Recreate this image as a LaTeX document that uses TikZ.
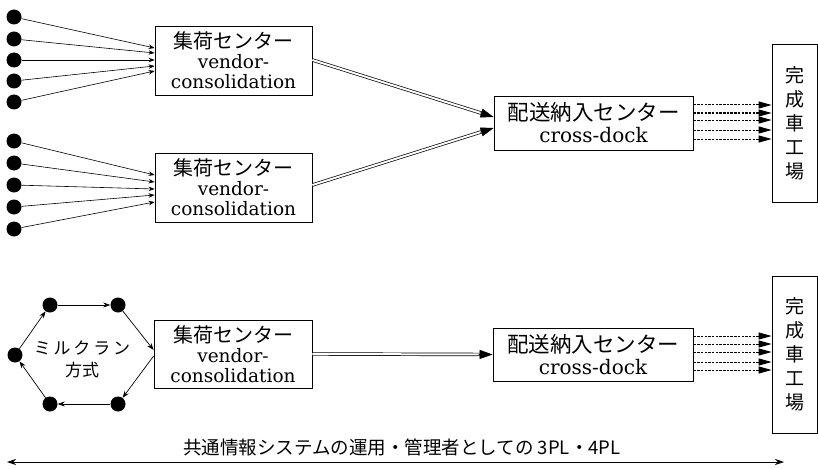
\documentclass[tikz,border=0pt]{standalone}
\usepackage{fontspec}
\setmainfont{DejaVu Serif}
\newfontfamily\jp{Noto Sans CJK JP}
\usetikzlibrary{arrows.meta,calc}
\tikzset{
  dot/.style={circle, fill=black, inner sep=0pt, minimum size=15pt},
  boxn/.style={draw, line width=0.8pt, inner sep=0pt, align=center},
  feed/.style={line width=0.6pt, -{Stealth[length=6pt,width=4.5pt]}},
  loopar/.style={line width=0.7pt, -{Stealth[length=7pt,width=5pt]}},
  dshaft/.style={double, double distance=2pt, line width=0.7pt, shorten >=11pt},
  dtip/.style={line width=0.7pt, -{Triangle[length=13pt,width=9pt]}},
  deliver/.style={line width=1pt, dash pattern=on 2.5pt off 1.2pt, -{Triangle[length=13pt,width=7pt]}},
  span/.style={line width=0.8pt, {Stealth[length=9pt,width=6pt]}-{Stealth[length=9pt,width=6pt]}},
  hubtext/.style={font=\fontsize{18.5}{20}\selectfont},
  docktext/.style={font=\fontsize{20}{22}\selectfont},
  planttext/.style={font=\jp\fontsize{19}{24}\selectfont, align=center},
}
\begin{document}
\begin{tikzpicture}[x=1pt, y=-1pt]
\useasboundingbox (0,0) rectangle (818,468);

% consolidation hubs
\node[boxn, hubtext, minimum width=157pt, minimum height=69pt] (c1) at (233.5,60.5)
  {{\jp\fontsize{20}{20}\selectfont 集荷センター}\\vendor-\\consolidation};
\node[boxn, hubtext, minimum width=157pt, minimum height=69pt] (c2) at (233.5,187.5)
  {{\jp\fontsize{20}{20}\selectfont 集荷センター}\\vendor-\\consolidation};
\node[boxn, hubtext, minimum width=158pt, minimum height=68pt] (c3) at (233,354)
  {{\jp\fontsize{20}{20}\selectfont 集荷センター}\\vendor-\\consolidation};

% cross-dock centres
\node[boxn, docktext, minimum width=199pt, minimum height=54pt] (x1) at (593.5,123)
  {{\jp\fontsize{21.5}{22}\selectfont 配送納入センター}\\cross-dock};
\node[boxn, docktext, minimum width=200pt, minimum height=53pt] (x2) at (593,354.5)
  {{\jp\fontsize{21.5}{22}\selectfont 配送納入センター}\\cross-dock};

% assembly plants
\node[boxn, planttext, minimum width=45pt, minimum height=158pt] (p1) at (794.5,123)
  {完\\成\\車\\工\\場};
\node[boxn, planttext, minimum width=45pt, minimum height=157pt] (p2) at (794.5,354.5)
  {完\\成\\車\\工\\場};

% suppliers, first group
\node[dot] (a1) at (14,17) {};
\node[dot] (a2) at (14,39) {};
\node[dot] (a3) at (14,60) {};
\node[dot] (a4) at (14,81) {};
\node[dot] (a5) at (14,102) {};
% suppliers, second group
\node[dot] (b1) at (14,141) {};
\node[dot] (b2) at (14,163) {};
\node[dot] (b3) at (14,185) {};
\node[dot] (b4) at (14,207) {};
\node[dot] (b5) at (14,229) {};

\draw[feed] (a1) -- ([yshift=12.5pt]c1.west);
\draw[feed] (a2) -- ([yshift=7.5pt]c1.west);
\draw[feed] (a3) -- ([yshift=0.5pt]c1.west);
\draw[feed] (a4) -- ([yshift=-5.5pt]c1.west);
\draw[feed] (a5) -- ([yshift=-10.5pt]c1.west);

\draw[feed] (b1) -- ([yshift=12.5pt]c2.west);
\draw[feed] (b2) -- ([yshift=5.5pt]c2.west);
\draw[feed] (b3) -- ([yshift=-1.5pt]c2.west);
\draw[feed] (b4) -- ([yshift=-7.5pt]c2.west);
\draw[feed] (b5) -- ([yshift=-14.5pt]c2.west);

% hub to cross-dock trunks: double shaft plus solid head
\coordinate (t1s) at ([yshift=0.5pt]c1.east);
\coordinate (t1e) at ([yshift=6pt]x1.west);
\coordinate (t2s) at ([yshift=2.5pt]c2.east);
\coordinate (t2e) at ([yshift=-5pt]x1.west);
\coordinate (t3s) at (c3.east);
\coordinate (t3e) at (x2.west);
\foreach \t in {t1,t2,t3}{
  \draw[dshaft] (\t s) -- (\t e);
  \draw[dtip] ($(\t e)!14pt!(\t s)$) -- (\t e);
}

% sequenced deliveries to the plants
\foreach \s in {18,10,3,-7,-16}{
  \draw[deliver] ([yshift=\s pt]x1.east) -- ([yshift=\s pt]p1.west);
}
\foreach \s in {18.5,10.5,2.5,-7.5,-15.5}{
  \draw[deliver] ([yshift=\s pt]x2.east) -- ([yshift=\s pt]p2.west);
}

% milk-run loop
\node[dot] (m1) at (50,305) {};
\node[dot] (m2) at (118,305) {};
\node[dot] (m3) at (118,404) {};
\node[dot] (m4) at (50,404) {};
\node[dot] (m5) at (15,355) {};
\node[font=\jp\fontsize{17}{22}\selectfont, align=center] (mr) at (82,359)
  {ミ\,ル\,ク\,ラ\,ン\\方式};
\draw[loopar] (m1) -- (m2);
\draw[loopar] (m2) -- ([yshift=4pt]c3.west);
\draw[loopar] ([yshift=-2pt]c3.west) -- (m3);
\draw[loopar] (m3) -- (m4);
\draw[loopar] (m4) -- (m5);
\draw[loopar] (m5) -- (m1);

% 3PL / 4PL span
\coordinate (sl) at (7,462);
\coordinate (sr) at (784,462);
\draw[span] (sl) -- (sr);
\node[font=\jp\fontsize{18.5}{20}\selectfont] (lbl) at (402,447)
  {共通情報システムの運用・管理者としての 3PL・4PL};
\end{tikzpicture}
\end{document}
